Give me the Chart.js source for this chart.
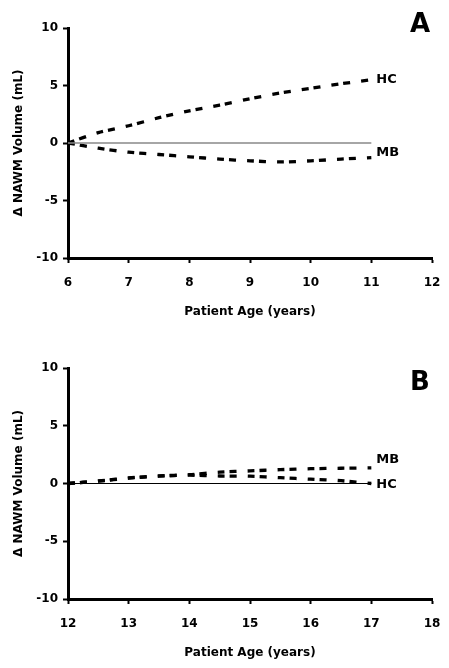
<!DOCTYPE html>
<html><head><meta charset="utf-8">
<script src="https://cdn.jsdelivr.net/npm/chart.js@4.4.0/dist/chart.umd.min.js"></script>
<style>
html,body{margin:0;padding:0;background:#fff;width:449px;height:668px;overflow:hidden;}
.wrap{position:absolute;left:0;width:449px;}
.panel{position:absolute;font-family:"DejaVu Sans",sans-serif;font-weight:bold;font-size:26px;line-height:26px;color:#000;}
</style></head>
<body>
<div class="wrap" style="top:0;height:330px;"><canvas id="cA" width="449" height="330"></canvas></div>
<div class="wrap" style="top:330px;height:338px;"><canvas id="cB" width="449" height="338"></canvas></div>
<div class="panel" style="left:410px;top:10px;">A</div>
<div class="panel" style="left:410px;top:368px;">B</div>
<script>
// Panel A data (ages 6-11)
const agesA = [6, 6.5, 7, 7.5, 8, 8.5, 9, 9.5, 10, 10.5, 11];
const hcA   = [0, 0.9, 1.5, 2.2, 2.8, 3.3, 3.85, 4.35, 4.75, 5.15, 5.5];
const mbA   = [0, -0.45, -0.8, -1.0, -1.2, -1.4, -1.55, -1.65, -1.55, -1.4, -1.27];
// Panel B data (ages 12-17)
const agesB = [12, 12.5, 13, 13.5, 14, 14.5, 15, 15.5, 16, 16.5, 17];
const hcB   = [0, 0.2, 0.46, 0.63, 0.72, 0.65, 0.63, 0.5, 0.37, 0.24, 0];
const mbB   = [0, 0.22, 0.48, 0.66, 0.76, 0.98, 1.09, 1.2, 1.28, 1.32, 1.35];
const yTicks = [-10, -5, 0, 5, 10];
const xRangeA = [6, 12];
const xRangeB = [12, 18];
const refA = [[6, 0], [11, 0]];
const refB = [[12, 0], [17, 0]];

const FONT = '"DejaVu Sans", sans-serif';

const labelPlugin = {
  id: 'endLabels',
  afterDatasetsDraw(chart, args, opts) {
    const ctx = chart.ctx;
    const xs = chart.scales.x, ys = chart.scales.y;
    ctx.save();
    ctx.font = 'bold 13px ' + FONT;
    ctx.fillStyle = '#000';
    ctx.textBaseline = 'middle';
    ctx.textAlign = 'left';
    (opts.items || []).forEach(it => {
      ctx.fillText(it.text, xs.getPixelForValue(it.x) + it.dx, ys.getPixelForValue(it.y) + it.dy);
    });
    ctx.restore();
  }
};

function pts(xs, ys) { return xs.map((x, i) => ({x: x, y: ys[i]})); }

function makeChart(id, ages, hc, mb, ref, xRange, refColor, refWidth, padTop, xHeight, titlePadBottom, labels) {
  const tickFont = {family: FONT, weight: 'bold', size: 12};
  const dash = [7, 5, 7, 11];
  return new Chart(document.getElementById(id), {
    type: 'line',
    data: {
      datasets: [
        {data: ref.map(p => ({x: p[0], y: p[1]})), borderColor: refColor, borderWidth: refWidth, pointRadius: 0, tension: 0},
        {data: pts(ages, hc), borderColor: '#000', borderWidth: 3.3, borderDash: dash, borderCapStyle: 'butt', pointRadius: 0, tension: 0.3},
        {data: pts(ages, mb), borderColor: '#000', borderWidth: 3.3, borderDash: dash, borderCapStyle: 'butt', pointRadius: 0, tension: 0.3}
      ]
    },
    options: {
      responsive: false,
      animation: false,
      layout: {padding: {left: 0, right: 17, top: padTop, bottom: 0}},
      plugins: {legend: {display: false}, tooltip: {enabled: false}, endLabels: {items: labels}},
      scales: {
        x: {
          type: 'linear', min: xRange[0], max: xRange[1],
          ticks: {stepSize: 1, color: '#000', font: tickFont, padding: 13, maxRotation: 0},
          grid: {drawOnChartArea: false, drawTicks: true, tickLength: 5, tickWidth: 2, tickColor: '#000'},
          border: {color: '#000', width: 3},
          title: {display: true, text: 'Patient Age (years)', color: '#000', font: tickFont, padding: {top: 4, bottom: titlePadBottom}},
          afterFit(s) { s.height = xHeight; s.paddingLeft = 0; s.paddingRight = 0; }
        },
        y: {
          type: 'linear', min: -10, max: 10,
          afterBuildTicks(s) { s.ticks = yTicks.map(v => ({value: v})); },
          ticks: {color: '#000', font: tickFont, padding: 5},
          grid: {drawOnChartArea: false, drawTicks: true, tickLength: 5, tickWidth: 2, tickColor: '#000'},
          border: {color: '#000', width: 3},
          title: {display: true, text: 'Δ NAWM Volume (mL)', color: '#000', font: tickFont, padding: {top: 12, bottom: 0}},
          afterFit(s) { s.width = 68; s.paddingTop = 0; s.paddingBottom = 0; }
        }
      }
    },
    plugins: [labelPlugin]
  });
}

makeChart('cA', agesA, hcA, mbA, refA, xRangeA, '#888', 1.5, 28, 72, 11, [
  {text: 'HC', x: 11, y: hcA[hcA.length - 1], dx: 5, dy: 0},
  {text: 'MB', x: 11, y: mbA[mbA.length - 1], dx: 5, dy: -5}
]);
makeChart('cB', agesB, hcB, mbB, refB, xRangeB, '#000', 1, 38, 69, 8, [
  {text: 'MB', x: 17, y: mbB[mbB.length - 1], dx: 5, dy: -8},
  {text: 'HC', x: 17, y: hcB[hcB.length - 1], dx: 5, dy: 1}
]);
</script>
</body></html>
